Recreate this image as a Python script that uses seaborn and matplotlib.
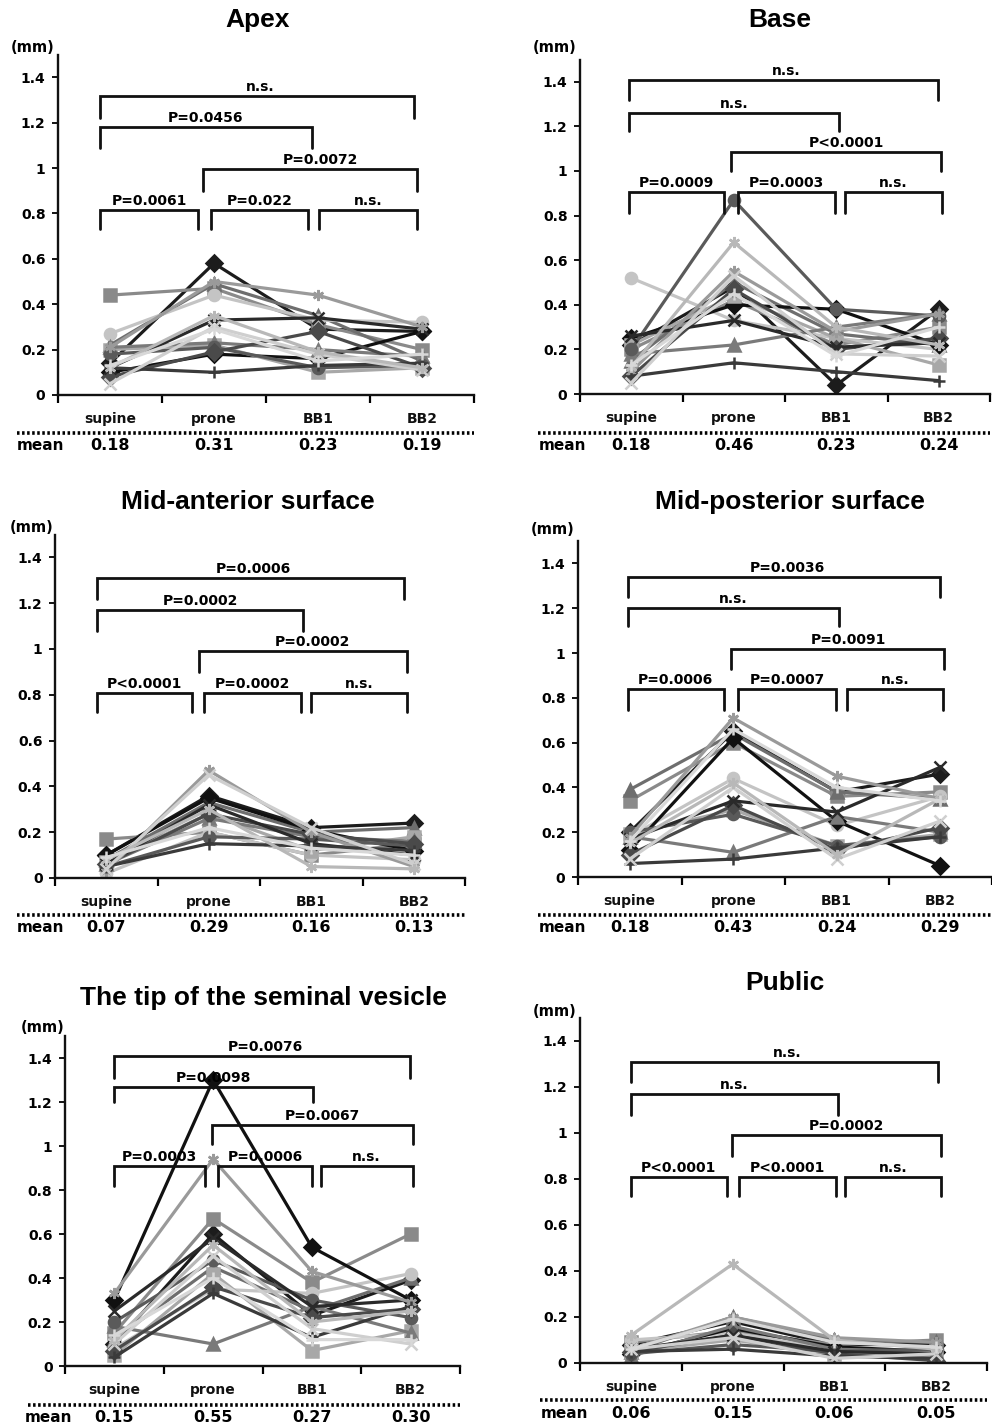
import numpy as np
import pandas as pd
import matplotlib
matplotlib.use("Agg")
import matplotlib.pyplot as plt
from matplotlib.lines import Line2D
from matplotlib.markers import MarkerStyle
import seaborn as sns

# ---------------- data ----------------
categories = ["supine", "prone", "BB1", "BB2"]
patients = [f"pt{i + 1}" for i in range(15)]

apex_values = [
    [0.14, 0.58, 0.29, 0.28], [0.44, 0.47, 0.31, 0.20], [0.22, 0.49, 0.35, 0.15],
    [0.12, 0.33, 0.34, 0.29], [0.21, 0.50, 0.44, 0.30], [0.27, 0.44, 0.33, 0.32],
    [0.12, 0.10, 0.13, 0.14], [0.10, 0.18, 0.16, 0.28], [0.20, 0.22, 0.10, 0.12],
    [0.21, 0.23, 0.20, 0.17], [0.05, 0.30, 0.18, 0.11], [0.12, 0.35, 0.19, 0.12],
    [0.18, 0.21, 0.12, 0.13], [0.13, 0.29, 0.15, 0.18], [0.08, 0.19, 0.28, 0.12],
]
base_values = [
    [0.22, 0.48, 0.04, 0.38], [0.20, 0.42, 0.22, 0.30], [0.15, 0.50, 0.27, 0.22],
    [0.26, 0.33, 0.21, 0.23], [0.10, 0.55, 0.28, 0.36], [0.52, 0.33, 0.25, 0.20],
    [0.08, 0.14, 0.10, 0.06], [0.25, 0.40, 0.38, 0.22], [0.22, 0.44, 0.25, 0.13],
    [0.18, 0.22, 0.30, 0.36], [0.05, 0.53, 0.18, 0.17], [0.12, 0.68, 0.30, 0.22],
    [0.20, 0.87, 0.38, 0.35], [0.13, 0.45, 0.17, 0.30], [0.08, 0.47, 0.20, 0.25],
]
mid_anterior_values = [
    [0.10, 0.36, 0.22, 0.24], [0.17, 0.20, 0.10, 0.15], [0.08, 0.33, 0.20, 0.22],
    [0.06, 0.32, 0.15, 0.10], [0.03, 0.47, 0.20, 0.05], [0.02, 0.20, 0.10, 0.08],
    [0.05, 0.15, 0.14, 0.12], [0.10, 0.35, 0.21, 0.12], [0.07, 0.28, 0.12, 0.18],
    [0.06, 0.26, 0.18, 0.16], [0.04, 0.45, 0.22, 0.06], [0.08, 0.30, 0.05, 0.04],
    [0.05, 0.18, 0.17, 0.14], [0.09, 0.22, 0.13, 0.10], [0.06, 0.28, 0.19, 0.15],
]
mid_posterior_values = [
    [0.20, 0.65, 0.38, 0.46], [0.34, 0.60, 0.36, 0.38], [0.39, 0.64, 0.38, 0.35],
    [0.17, 0.34, 0.29, 0.49], [0.18, 0.71, 0.45, 0.35], [0.18, 0.44, 0.23, 0.36],
    [0.06, 0.08, 0.13, 0.18], [0.12, 0.62, 0.25, 0.05], [0.19, 0.30, 0.14, 0.19],
    [0.18, 0.11, 0.27, 0.20], [0.08, 0.40, 0.08, 0.25], [0.15, 0.42, 0.10, 0.35],
    [0.20, 0.28, 0.14, 0.18], [0.16, 0.66, 0.40, 0.34], [0.10, 0.32, 0.12, 0.22],
]
seminal_values = [
    [0.10, 0.60, 0.23, 0.39], [0.15, 0.67, 0.38, 0.60], [0.12, 0.45, 0.25, 0.40],
    [0.25, 0.58, 0.27, 0.30], [0.33, 0.94, 0.43, 0.29], [0.08, 0.35, 0.33, 0.42],
    [0.04, 0.33, 0.13, 0.27], [0.30, 1.30, 0.54, 0.30], [0.05, 0.42, 0.07, 0.16],
    [0.18, 0.10, 0.27, 0.15], [0.10, 0.50, 0.17, 0.10], [0.12, 0.55, 0.20, 0.25],
    [0.20, 0.48, 0.30, 0.22], [0.14, 0.40, 0.12, 0.12], [0.07, 0.36, 0.22, 0.26],
]
pubic_values = [
    [0.08, 0.18, 0.08, 0.08], [0.09, 0.14, 0.08, 0.10], [0.05, 0.20, 0.10, 0.09],
    [0.06, 0.12, 0.05, 0.04], [0.06, 0.20, 0.11, 0.09], [0.10, 0.13, 0.06, 0.03],
    [0.05, 0.06, 0.03, 0.02], [0.04, 0.15, 0.07, 0.05], [0.05, 0.10, 0.04, 0.03],
    [0.03, 0.16, 0.06, 0.05], [0.06, 0.11, 0.02, 0.04], [0.12, 0.43, 0.10, 0.06],
    [0.04, 0.08, 0.05, 0.06], [0.06, 0.19, 0.09, 0.07], [0.05, 0.12, 0.04, 0.01],
]

panel_titles = ["Apex", "Base", "Mid-anterior surface", "Mid-posterior surface",
                "The tip of the seminal vesicle", "Public"]
panel_values = [apex_values, base_values, mid_anterior_values,
                mid_posterior_values, seminal_values, pubic_values]

apex_means = [0.18, 0.31, 0.23, 0.19]
base_means = [0.18, 0.46, 0.23, 0.24]
mid_anterior_means = [0.07, 0.29, 0.16, 0.13]
mid_posterior_means = [0.18, 0.43, 0.24, 0.29]
seminal_means = [0.15, 0.55, 0.27, 0.30]
pubic_means = [0.06, 0.15, 0.06, 0.05]
panel_means = [apex_means, base_means, mid_anterior_means,
               mid_posterior_means, seminal_means, pubic_means]

# comparisons order: supine-prone, prone-BB1, BB1-BB2, prone-BB2, supine-BB1, supine-BB2
apex_tests = ["P=0.0061", "P=0.022", "n.s.", "P=0.0072", "P=0.0456", "n.s."]
base_tests = ["P=0.0009", "P=0.0003", "n.s.", "P<0.0001", "n.s.", "n.s."]
mid_anterior_tests = ["P<0.0001", "P=0.0002", "n.s.", "P=0.0002", "P=0.0002", "P=0.0006"]
mid_posterior_tests = ["P=0.0006", "P=0.0007", "n.s.", "P=0.0091", "n.s.", "P=0.0036"]
seminal_tests = ["P=0.0003", "P=0.0006", "n.s.", "P=0.0067", "P=0.0098", "P=0.0076"]
pubic_tests = ["P<0.0001", "P<0.0001", "n.s.", "P=0.0002", "n.s.", "n.s."]
panel_tests = [apex_tests, base_tests, mid_anterior_tests,
               mid_posterior_tests, seminal_tests, pubic_tests]

# ---------------- styling / layout ----------------
markers_cycle = ["D", "s", "^", "x", (6, 2, 0), "o", "+"]
grays = ["#1c1c1c", "#8a8a8a", "#6e6e6e", "#2a2a2a", "#9a9a9a", "#c4c4c4", "#3a3a3a",
         "#111111", "#a8a8a8", "#7a7a7a", "#cfcfcf", "#b8b8b8", "#5a5a5a", "#d8d8d8", "#4a4a4a"]
pt_marker = {p: markers_cycle[i % len(markers_cycle)] for i, p in enumerate(patients)}
pt_color = {p: grays[i] for i, p in enumerate(patients)}

W, H = 992, 1426
layout = [
    dict(x0=58, x1=474, y0=395, s=227, title=(258, 20), mm=(33, 47), dot=(433, 17, 474), mean=(445, 40)),
    dict(x0=580, x1=990, y0=394, s=223, title=(780, 20), mm=(555, 48), dot=(433, 538, 990), mean=(445, 563)),
    dict(x0=55, x1=465, y0=878, s=229, title=(248, 502), mm=(32, 527), dot=(915, 17, 465), mean=(928, 40)),
    dict(x0=578, x1=992, y0=877, s=224, title=(790, 502), mm=(553, 530), dot=(915, 538, 992), mean=(928, 562)),
    dict(x0=65, x1=460, y0=1366, s=220, title=(263, 998), mm=(43, 1027), dot=(1405, 28, 460), mean=(1417, 48)),
    dict(x0=580, x1=987, y0=1363, s=230, title=(785, 983), mm=(555, 1012), dot=(1400, 540, 987), mean=(1413, 565)),
]
brackets = [
    [(-0.10, 0.85, 0.815, 0.73), (0.97, 1.90, 0.815, 0.73), (2.01, 2.95, 0.815, 0.73),
     (0.89, 2.95, 0.995, 0.90), (-0.10, 1.94, 1.18, 1.09), (-0.10, 2.92, 1.317, 1.22)],
    [(-0.02, 0.90, 0.905, 0.81), (1.04, 1.99, 0.905, 0.81), (2.09, 3.03, 0.905, 0.81),
     (0.97, 3.02, 1.085, 1.00), (-0.02, 2.03, 1.26, 1.18), (-0.02, 2.99, 1.41, 1.32)],
    [(-0.09, 0.84, 0.81, 0.725), (0.95, 1.90, 0.81, 0.725), (2.00, 2.93, 0.81, 0.725),
     (0.90, 2.93, 0.99, 0.90), (-0.09, 1.92, 1.17, 1.08), (-0.09, 2.90, 1.31, 1.22)],
    [(-0.02, 0.91, 0.84, 0.745), (1.05, 1.99, 0.84, 0.745), (2.10, 3.03, 0.84, 0.745),
     (0.98, 3.04, 1.02, 0.93), (-0.02, 2.02, 1.20, 1.12), (-0.02, 3.00, 1.34, 1.25)],
    [(0.0, 0.92, 0.91, 0.82), (1.05, 2.00, 0.91, 0.82), (2.09, 3.02, 0.91, 0.82),
     (0.99, 3.02, 1.095, 1.01), (0.0, 2.01, 1.27, 1.20), (0.0, 2.99, 1.41, 1.31)],
    [(0.0, 0.94, 0.81, 0.725), (1.06, 2.02, 0.81, 0.725), (2.10, 3.05, 0.81, 0.725),
     (0.99, 3.05, 0.99, 0.90), (0.0, 2.04, 1.17, 1.08), (0.0, 3.02, 1.31, 1.22)],
]
text_offsets = [0, 0, 0, 0.1, 0, 0.03]

sns.set_style("ticks")
plt.rcParams["font.family"] = ["DejaVu Sans"]
plt.rcParams["font.weight"] = "bold"
plt.rcParams["text.color"] = "black"
plt.rcParams["xtick.color"] = "black"
plt.rcParams["ytick.color"] = "black"
plt.rcParams["axes.edgecolor"] = "black"

fig = plt.figure(figsize=(W / 100, H / 100), dpi=100)
fig.patch.set_facecolor("white")

for k in range(6):
    L = layout[k]
    ax = fig.add_axes([L["x0"] / W, 1 - L["y0"] / H, (L["x1"] - L["x0"]) / W, 1.5 * L["s"] / H])
    ax.set_facecolor("none")

    rows = []
    for p, vals in zip(patients, panel_values[k]):
        for c, v in zip(categories, vals):
            rows.append({"patient": p, "condition": c, "value": v})
    df = pd.DataFrame(rows)
    df["pos"] = df["condition"].map({c: i for i, c in enumerate(categories)})

    filled = [p for p in patients if MarkerStyle(pt_marker[p]).is_filled()]
    unfilled = [p for p in patients if p not in filled]
    for ids in (filled, unfilled):
        sub = df[df["patient"].isin(ids)]
        sns.lineplot(data=sub, x="pos", y="value", hue="patient", style="patient",
                     hue_order=ids, style_order=ids,
                     palette={p: pt_color[p] for p in ids},
                     markers={p: pt_marker[p] for p in ids}, dashes=False,
                     errorbar=None, sort=False, legend=False, ax=ax,
                     linewidth=2.3, markersize=8)
    for ln in ax.lines:
        ln.set_markeredgecolor(ln.get_color())
        ln.set_markeredgewidth(1.8)

    ax.set_xlim(-0.5, 3.5)
    ax.set_ylim(0, 1.5)
    ax.set_xlabel("")
    ax.set_ylabel("")
    yt = np.round(np.arange(0, 1.41, 0.2), 1)
    ax.set_yticks(yt)
    ax.set_yticklabels([f"{v:g}" for v in yt], fontsize=10, fontweight="bold")
    ax.set_xticks([-0.5, 0.5, 1.5, 2.5, 3.5])
    ax.set_xticklabels([])
    ax.set_xticks(range(len(categories)), minor=True)
    ax.set_xticklabels(categories, minor=True, fontsize=10, fontweight="bold", color="#111111")
    ax.tick_params(axis="x", which="major", length=6, width=1.6, direction="out")
    ax.tick_params(axis="x", which="minor", length=0, pad=12)
    ax.tick_params(axis="y", length=4, width=1.3, direction="out", pad=5)
    for side in ("top", "right"):
        ax.spines[side].set_visible(False)
    for side in ("left", "bottom"):
        ax.spines[side].set_linewidth(1.7)
        ax.spines[side].set_color("#111111")

    # significance brackets
    for j, (lab, (xl, xr, yl, yb)) in enumerate(zip(panel_tests[k], brackets[k])):
        ax.plot([xl, xl, xr, xr], [yb, yl, yl, yb], color="#111111", lw=2.0,
                solid_joinstyle="miter", clip_on=False)
        ax.text((xl + xr) / 2 + text_offsets[j], yl + 0.008, lab, ha="center", va="bottom",
                fontsize=10, fontweight="bold", color="black")

    # titles and labels
    fig.text(L["title"][0] / W, 1 - L["title"][1] / H, panel_titles[k], ha="center", va="center",
             fontsize=19, fontweight="bold", family=["Liberation Sans", "DejaVu Sans"])
    fig.text(L["mm"][0] / W, 1 - L["mm"][1] / H, "(mm)", ha="center", va="center",
             fontsize=10.5, fontweight="bold")
    dy, dxa, dxb = L["dot"]
    fig.add_artist(Line2D([dxa / W, dxb / W], [1 - dy / H, 1 - dy / H], transform=fig.transFigure,
                          color="black", lw=2.6, linestyle=(0, (0.7, 0.7))))
    my, mx = L["mean"]
    fig.text(mx / W, 1 - my / H, "mean", ha="center", va="center", fontsize=11, fontweight="bold")
    cw = (L["x1"] - L["x0"]) / len(categories)
    for i, m in enumerate(panel_means[k]):
        fig.text((L["x0"] + (i + 0.5) * cw) / W, 1 - my / H, f"{m:.2f}", ha="center", va="center",
                 fontsize=11.5, fontweight="bold")

fig.savefig("out.png", dpi=100, facecolor="white")
